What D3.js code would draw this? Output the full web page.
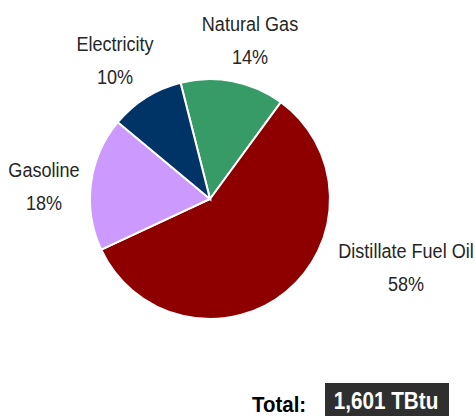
<!DOCTYPE html>
<html>
<head>
<meta charset="utf-8">
<script src="https://cdn.jsdelivr.net/npm/d3@7"></script>
<style>
  body { margin: 0; background: white; }
  text { font-family: "Liberation Sans", Arial, sans-serif; }
</style>
</head>
<body>
<div id="chart"></div>
<script>
// data, clockwise from the top
var categories = ["Natural Gas", "Distillate Fuel Oil", "Gasoline", "Electricity"];
var shares = [14, 58, 18, 10];
var colors = ["#379b68", "#8e0000", "#cc99ff", "#003366"];
var totalLabel = "1,601 TBtu";

// label positions (centre x, baseline of first line)
var labelPos = [[250, 31], [406, 258], [44, 177], [115, 51]];

var width = 475, height = 416;
var cx = 210, cy = 199, radius = 120;
var narrow = 0.86; // squeeze the text horizontally, like Arial Narrow

var svg = d3.select("#chart")
  .append("svg")
    .attr("width", width)
    .attr("height", height)
    .style("background", "white");

var pie = d3.pie()
  .sort(null)
  .startAngle(-14.2 * Math.PI / 180)
  .endAngle((360 - 14.2) * Math.PI / 180);

var arc = d3.arc()
  .innerRadius(0)
  .outerRadius(radius);

var slices = pie(shares);

svg.append("g")
  .attr("transform", "translate(" + cx + "," + cy + ")")
  .selectAll("path")
  .data(slices)
  .enter()
  .append("path")
    .attr("d", arc)
    .style("fill", function(d, i){ return colors[i]; })
    .attr("stroke", "white")
    .style("stroke-width", 2);

// labels: name on one line, percent below
var labels = svg.append("g")
  .selectAll("text")
  .data(slices)
  .enter()
  .append("text")
    .attr("text-anchor", "middle")
    .attr("transform", function(d, i){
      return "translate(" + labelPos[i][0] + "," + labelPos[i][1] + ") scale(" + narrow + ",1)";
    })
    .style("font-size", "21px")
    .style("fill", "#262626");

labels.append("tspan")
  .attr("x", 0)
  .text(function(d, i){ return categories[i]; });

labels.append("tspan")
  .attr("x", 0)
  .attr("dy", 33)
  .text(function(d){ return d3.format(".0f")(d.value) + "%"; });

// total box
svg.append("text")
  .attr("transform", "translate(252,411.5) scale(0.93,1)")
  .style("font-size", "22px")
  .style("font-weight", "bold")
  .style("fill", "#000")
  .text("Total:");

svg.append("rect")
  .attr("x", 325)
  .attr("y", 383)
  .attr("width", 124)
  .attr("height", 33)
  .style("fill", "#2f2f2f");

svg.append("text")
  .attr("transform", "translate(386,408.5) scale(0.9,1)")
  .attr("text-anchor", "middle")
  .style("font-size", "23px")
  .style("font-weight", "bold")
  .style("fill", "white")
  .text(totalLabel);
</script>
</body>
</html>
